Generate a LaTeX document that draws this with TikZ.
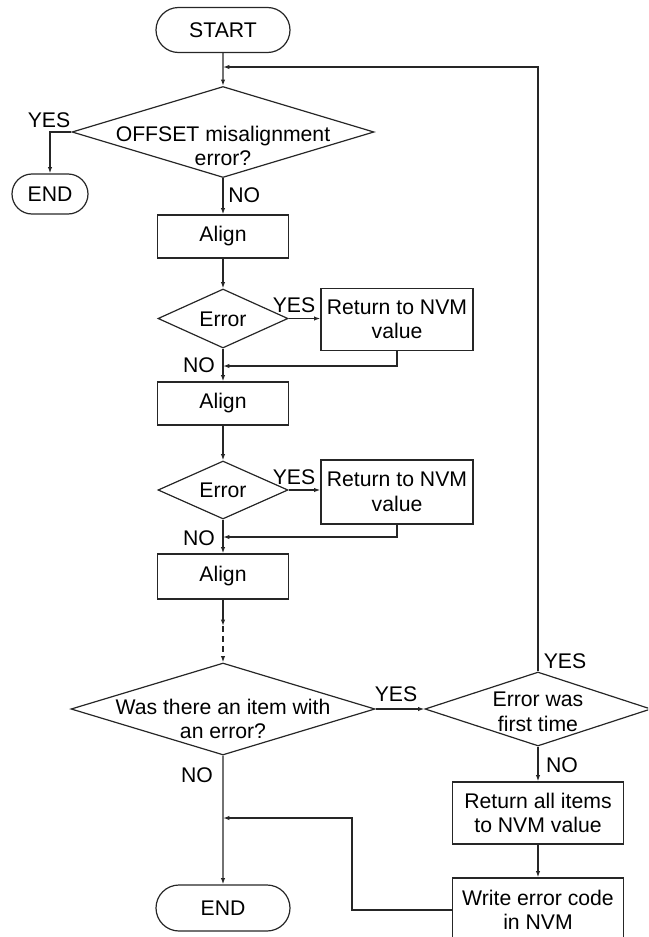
\documentclass[tikz,border=0pt]{standalone}
\usepackage{fontspec}
\setmainfont{Liberation Sans}
\usetikzlibrary{shapes.geometric,shapes.misc,arrows.meta}

\tikzset{
  flow/.style={line width=0.6pt, draw=black!85},
  arr/.style={flow, -{Latex[length=3.2pt,width=2.2pt]}},
  terminal/.style={rounded rectangle, draw=black!85, line width=0.6pt, inner sep=0pt, minimum height=22.5pt},
  process/.style={rectangle, draw=black!85, line width=0.6pt, inner sep=0pt, align=center},
  decision/.style={diamond, draw=black!85, line width=0.6pt, inner sep=0pt},
  dtext/.style={align=center, inner sep=0pt},
  tag/.style={inner sep=0pt}
}

\begin{document}
\begin{tikzpicture}[x=0.5pt,y=-0.5pt,font=\fontsize{10.6}{12.3}\selectfont]
  \clip (0,0) rectangle (648,937);

  % terminals
  \node[terminal, minimum width=67pt] (start) at (223,30) {START};
  \node[terminal, minimum width=38pt, minimum height=20pt] (end1) at (50,194) {END};
  \node[terminal, minimum width=67pt, minimum height=23pt] (end2) at (223,908) {END};

  % main column
  \node[decision, minimum width=151pt, minimum height=45.5pt] (q1) at (223,132) {};
  \node[dtext] (q1t) at (223,146) {OFFSET misalignment\\error?};
  \node[process, minimum width=65.5pt, minimum height=21.5pt] (al1) at (223,236.5) {Align};
  \node[decision, minimum width=65pt, minimum height=29.5pt] (e1) at (223,318.5) {};
  \node[dtext] (e1t) at (223,319) {Error};
  \node[process, minimum width=76pt, minimum height=31pt] (r1) at (397,319.5) {Return to NVM\\value};
  \coordinate (j1) at (223,366);
  \node[process, minimum width=65.5pt, minimum height=21.5pt] (al2) at (223,403.5) {Align};
  \node[decision, minimum width=65pt, minimum height=29pt] (e2) at (223,490) {};
  \node[dtext] (e2t) at (223,490.5) {Error};
  \node[process, minimum width=76pt, minimum height=32pt] (r2) at (397,492) {Return to NVM\\value};
  \coordinate (j2) at (223,537);
  \node[process, minimum width=65.5pt, minimum height=22.5pt] (al3) at (223,576.5) {Align};
  \coordinate (gap) at (223,626);
  \node[decision, minimum width=152pt, minimum height=46pt] (q2) at (223,709) {};
  \node[dtext] (q2t) at (223,719) {Was there an item with\\an error?};

  % right column
  \node[decision, minimum width=113pt, minimum height=37pt] (q3) at (538,709) {};
  \node[dtext] (q3t) at (538,712) {Error was\\first time};
  \node[process, minimum width=85.5pt, minimum height=31pt] (r3) at (538,813) {Return all items\\to NVM value};
  \node[process, minimum width=85.5pt, minimum height=32pt] (wr) at (538,910) {Write error code\\in NVM};
  \coordinate (top) at (223,67);
  \coordinate (j3) at (223,818);
  \coordinate (bend) at (352,818);

  % connectors
  \draw[arr] (start) -- (q1);
  \draw[arr] (q1.west) -| (end1.north);
  \draw[arr] (q1) -- (al1);
  \draw[arr] (al1) -- (e1);
  \draw[arr] (e1.east) -- (e1.east -| r1.west);
  \draw[arr] (r1.south) |- (j1);
  \draw[arr] (e1) -- (al2);
  \draw[arr] (al2) -- (e2);
  \draw[arr] (e2.east) -- (e2.east -| r2.west);
  \draw[arr] (r2.south) |- (j2);
  \draw[arr] (e2) -- (al3);
  \draw[arr] (al3) -- (gap);
  \draw[arr, densely dashed] (gap) -- (q2);
  \draw[arr] (q2.east) -- (q3.west);
  \draw[arr] (q3.north) |- (top);
  \draw[arr] (q3) -- (r3);
  \draw[arr] (r3) -- (wr);
  \draw[arr] (wr.west) -| (bend) -- (j3);
  \draw[arr] (q2) -- (end2);

  % branch labels
  \node[tag] (y1) at (49,120) {YES};
  \node[tag, anchor=west] (n1) at (228,195) {NO};
  \node[tag] (y2) at (294,305) {YES};
  \node[tag] (n2) at (199,365) {NO};
  \node[tag] (y3) at (294,477) {YES};
  \node[tag] (n3) at (199,538) {NO};
  \node[tag] (y4) at (396,694) {YES};
  \node[tag] (n4) at (197,775) {NO};
  \node[tag] (y5) at (565,661) {YES};
  \node[tag] (n5) at (562,765) {NO};
\end{tikzpicture}
\end{document}
